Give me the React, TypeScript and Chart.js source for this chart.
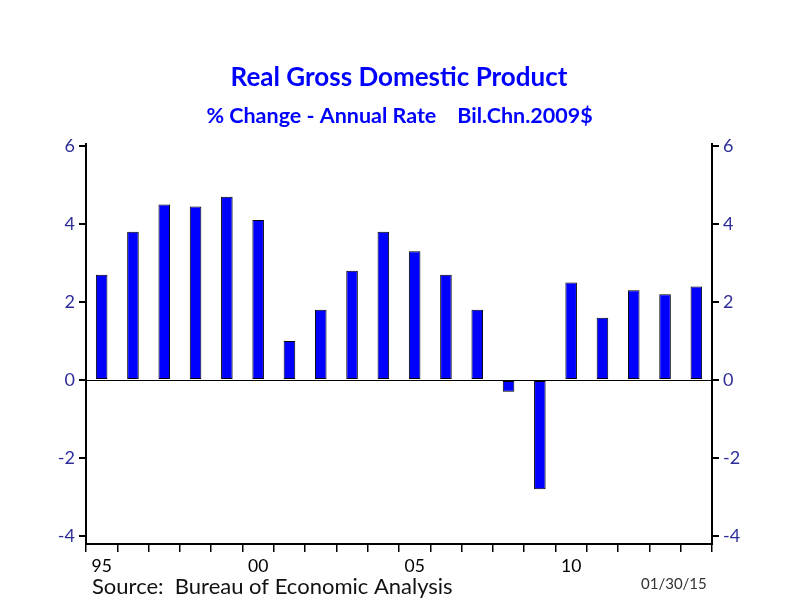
import React, { useEffect, useRef } from 'react';
import { Chart, registerables } from 'chart.js';

Chart.register(...registerables);

const years = ['1995','1996','1997','1998','1999','2000','2001','2002','2003','2004','2005','2006','2007','2008','2009','2010','2011','2012','2013','2014'];
const gdpGrowth = [2.7, 3.8, 4.5, 4.45, 4.7, 4.1, 1.0, 1.8, 2.8, 3.8, 3.3, 2.7, 1.8, -0.3, -2.8, 2.5, 1.6, 2.3, 2.2, 2.4];
const yTickValues = [-4, -2, 0, 2, 4, 6];
const titleText = 'Real Gross Domestic Product';
const subtitleText = '% Change - Annual Rate    Bil.Chn.2009$';
const sourceText = 'Source:  Bureau of Economic Analysis';
const dateText = '01/30/15';

const FONT = 'Lato, "Open Sans", sans-serif';

const decor = {
  id: 'decor',
  beforeDatasetsDraw(chart: any) {
    const { ctx, chartArea, scales } = chart;
    const y0 = Math.round(scales.y.getPixelForValue(0)) + 0.5;
    ctx.save();
    ctx.strokeStyle = '#000';
    ctx.lineWidth = 1;
    ctx.beginPath();
    ctx.moveTo(chartArea.left, y0);
    ctx.lineTo(chartArea.right, y0);
    ctx.stroke();
    ctx.restore();
  },
  afterDraw(chart: any) {
    const { ctx } = chart;
    ctx.save();
    ctx.textAlign = 'center';
    ctx.textBaseline = 'alphabetic';
    ctx.fillStyle = '#0000FF';
    ctx.font = `bold 26px ${FONT}`;
    ctx.fillText(titleText, 399, 86);
    ctx.font = `bold 21.5px ${FONT}`;
    ctx.fillText(subtitleText, 399.5, 123);
    ctx.textAlign = 'left';
    ctx.fillStyle = '#111';
    ctx.font = `22px ${FONT}`;
    ctx.fillText(sourceText, 92, 594);
    ctx.fillStyle = '#333';
    ctx.font = `15px ${FONT}`;
    ctx.fillText(dateText, 641, 589);
    ctx.restore();
  },
};

export default function App() {
  const ref = useRef<HTMLCanvasElement | null>(null);
  useEffect(() => {
    if (!ref.current) return;
    const setTicks = (s: any) => {
      s.ticks = yTickValues.map((v) => ({ value: v }));
    };
    const yCommon = (pos: 'left' | 'right', width: number) => ({
      type: 'linear' as const,
      position: pos,
      min: -4.2,
      max: 6.05,
      afterBuildTicks: setTicks,
      afterFit: (s: any) => {
        s.width = width;
      },
      grid: { drawOnChartArea: false, drawTicks: true, tickLength: 7, color: '#000', tickColor: '#000', lineWidth: 2 },
      border: { display: true, color: '#000', width: 2 },
      ticks: { color: '#2E2E9A', font: { family: FONT, size: 18 }, padding: 4 },
    });
    const chart = new Chart(ref.current, {
      type: 'bar',
      data: {
        labels: years,
        datasets: [
          {
            data: gdpGrowth,
            backgroundColor: '#0000FF',
            borderColor: '#000',
            borderWidth: 1,
            borderSkipped: false,
            categoryPercentage: 1,
            barPercentage: 0.37,
            yAxisID: 'y',
          },
        ],
      },
      options: {
        responsive: false,
        animation: false,
        events: [],
        layout: { padding: { top: 144, left: 0, right: 0, bottom: 0 } },
        plugins: { legend: { display: false }, tooltip: { enabled: false }, title: { display: false } },
        scales: {
          x: {
            type: 'category',
            offset: true,
            afterFit: (s: any) => {
              s.height = 57;
            },
            grid: { offset: true, drawOnChartArea: false, drawTicks: true, tickLength: 8, color: '#000', tickColor: '#000', lineWidth: 1.5 },
            border: { display: true, color: '#000', width: 2 },
            ticks: {
              autoSkip: false,
              maxRotation: 0,
              minRotation: 0,
              color: '#000',
              padding: 4,
              font: { family: FONT, size: 17.5 },
              callback: (_v: any, i: number) => (parseInt(years[i], 10) % 5 === 0 ? years[i].slice(2) : ''),
            },
          },
          y: yCommon('left', 86),
          y2: yCommon('right', 89),
        },
      },
      plugins: [decor],
    });
    return () => chart.destroy();
  }, []);
  return (
    <div style={{ position: 'fixed', left: 0, top: 0, width: 801, height: 601, background: '#fff' }}>
      <canvas ref={ref} width={801} height={601} style={{ display: 'block' }} />
    </div>
  );
}
